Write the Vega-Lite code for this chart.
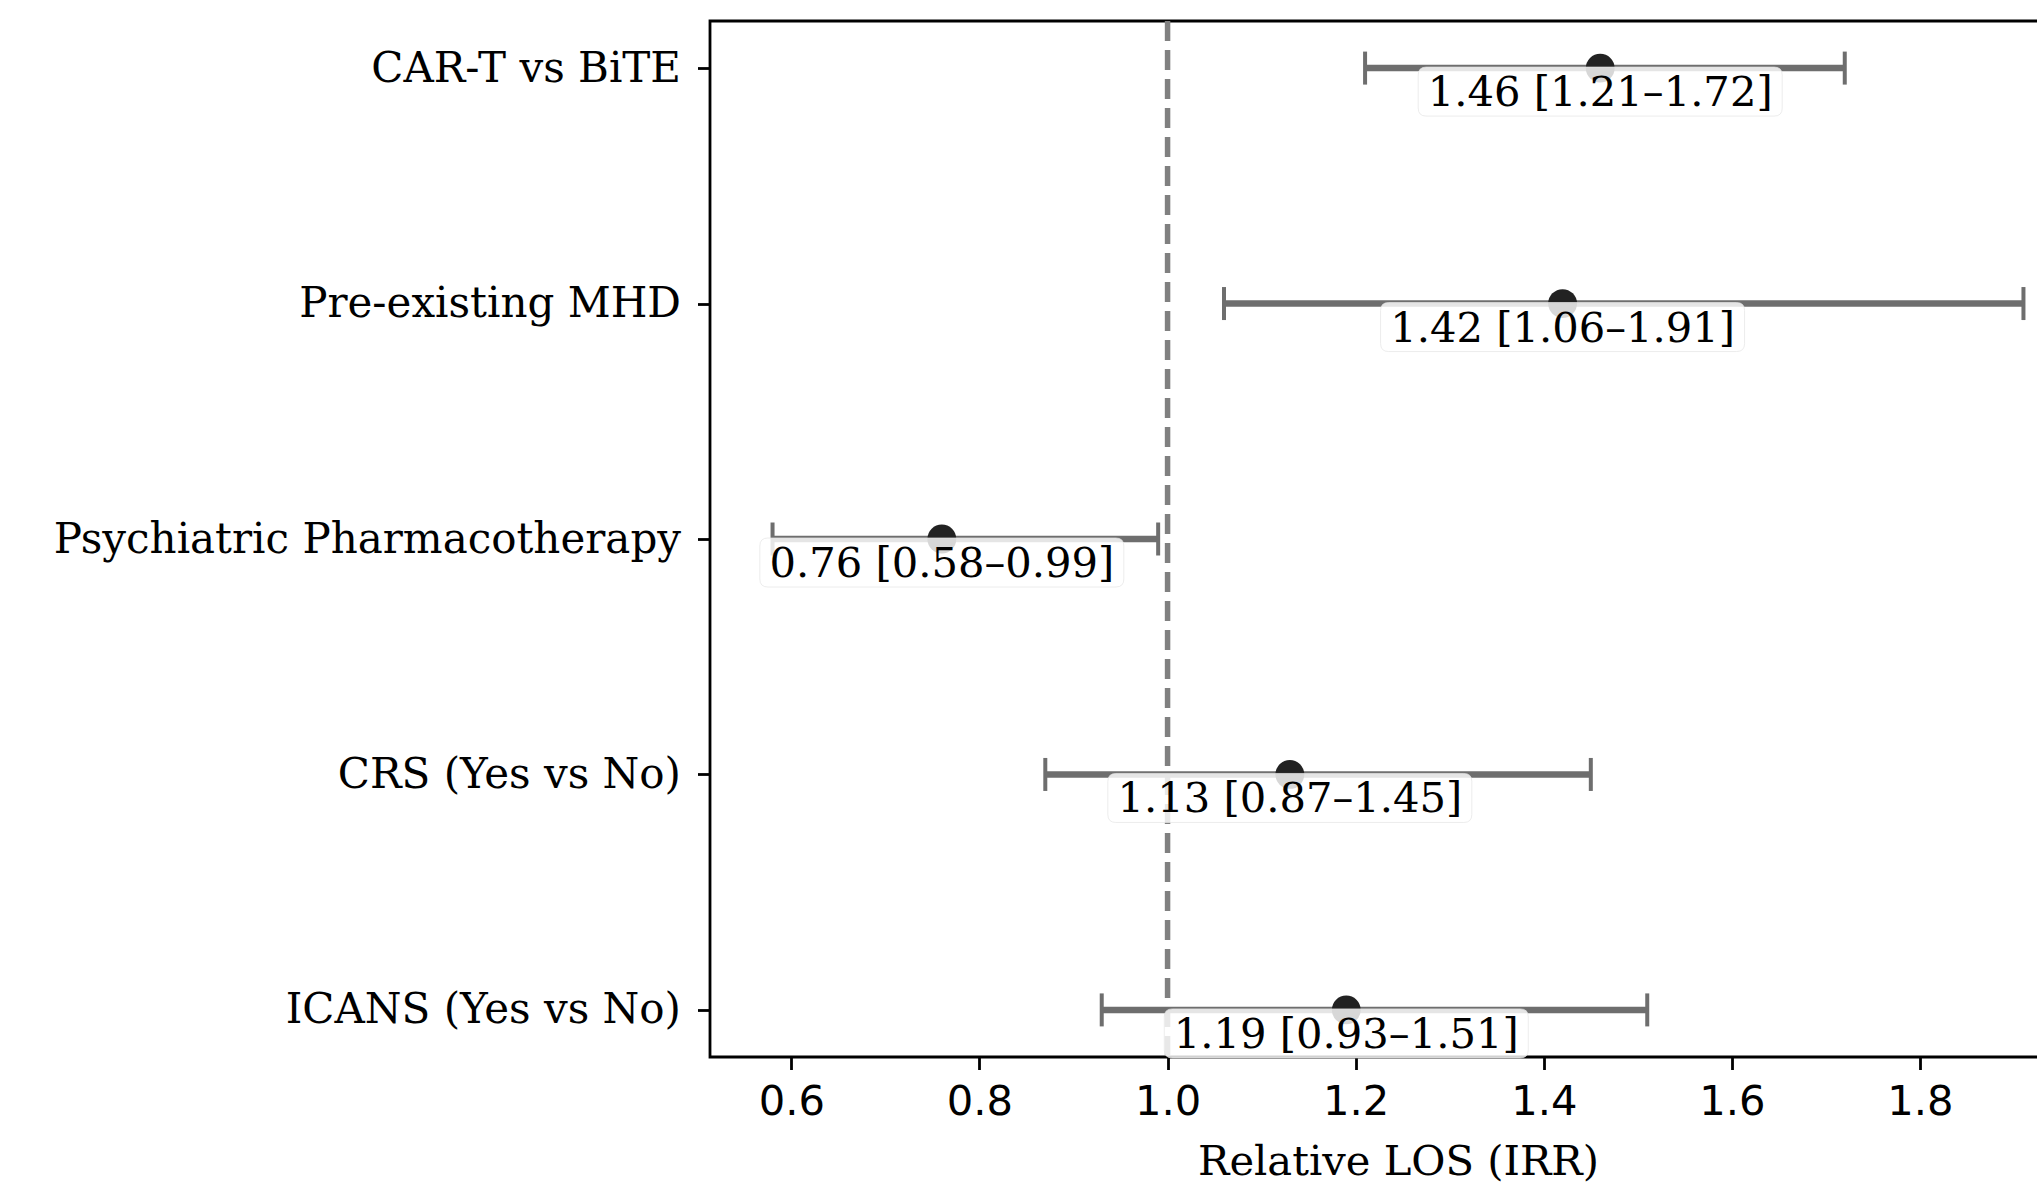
{
  "$schema": "https://vega.github.io/schema/vega-lite/v6.json",
  "autosize": {"type": "none"},
  "padding": {"left": 710, "top": 21, "right": 0, "bottom": 127},
  "width": 1376,
  "height": 1036,
  "background": "white",
  "config": {
    "view": {"stroke": "black", "strokeWidth": 2.8},
    "axis": {
      "domain": false,
      "grid": false,
      "tickColor": "black",
      "tickWidth": 2.8,
      "tickSize": 12.5,
      "labelColor": "black",
      "labelFontSize": 41.67,
      "labelLimit": 1000,
      "titleFontSize": 41.67,
      "titleFont": "DejaVu Serif",
      "titleFontWeight": "normal",
      "titleColor": "black"
    }
  },
  "datasets": {
    "rows": [
      {"term": "CAR-T vs BiTE", "est": 1.46, "lo": 1.21, "hi": 1.72, "label": "1.46 [1.21–1.72]"},
      {"term": "Pre-existing MHD", "est": 1.42, "lo": 1.06, "hi": 1.91, "label": "1.42 [1.06–1.91]"},
      {"term": "Psychiatric Pharmacotherapy", "est": 0.76, "lo": 0.58, "hi": 0.99, "label": "0.76 [0.58–0.99]"},
      {"term": "CRS (Yes vs No)", "est": 1.13, "lo": 0.87, "hi": 1.45, "label": "1.13 [0.87–1.45]"},
      {"term": "ICANS (Yes vs No)", "est": 1.19, "lo": 0.93, "hi": 1.51, "label": "1.19 [0.93–1.51]"}
    ],
    "ref": [{"ref": 1}]
  },
  "data": {"name": "rows"},
  "encoding": {
    "y": {
      "field": "term",
      "type": "nominal",
      "sort": null,
      "scale": {"type": "point", "padding": 0.2},
      "axis": {
        "title": null,
        "labelFont": "DejaVu Serif",
        "labelFontSize": 42,
        "labelPadding": 17
      }
    }
  },
  "layer": [
    {
      "data": {"name": "ref"},
      "mark": {"type": "rule", "color": "#808080", "strokeWidth": 5.5, "strokeDash": [20, 9]},
      "encoding": {
        "x": {"field": "ref", "type": "quantitative"},
        "y": null
      }
    },
    {
      "mark": {"type": "rule", "color": "#6e6e6e", "strokeWidth": 6.5},
      "encoding": {
        "x": {
          "field": "lo",
          "type": "quantitative",
          "scale": {"domain": [0.5135, 1.9765], "nice": false, "zero": false},
          "axis": {
            "title": "Relative LOS (IRR)",
            "values": [0.6, 0.8, 1.0, 1.2, 1.4, 1.6, 1.8],
            "format": ".1f",
            "labelFont": "DejaVu Sans",
            "labelPadding": 12,
            "titlePadding": 18
          }
        },
        "x2": {"field": "hi"}
      }
    },
    {
      "mark": {"type": "tick", "orient": "vertical", "color": "#6e6e6e", "size": 33, "thickness": 4, "opacity": 1},
      "encoding": {"x": {"field": "lo", "type": "quantitative"}}
    },
    {
      "mark": {"type": "tick", "orient": "vertical", "color": "#6e6e6e", "size": 33, "thickness": 4, "opacity": 1},
      "encoding": {"x": {"field": "hi", "type": "quantitative"}}
    },
    {
      "mark": {"type": "point", "shape": "circle", "filled": true, "color": "#222222", "size": 830, "opacity": 1},
      "encoding": {"x": {"field": "est", "type": "quantitative"}}
    },
    {
      "mark": {
        "type": "point",
        "shape": "M-174,-1 H174 Q182,-1 182,7 V40 Q182,48 174,48 H-174 Q-182,48 -182,40 V7 Q-182,-1 -174,-1 Z",
        "size": 4,
        "filled": true,
        "fill": "white",
        "fillOpacity": 0.82,
        "stroke": "#e4e4e4",
        "strokeWidth": 1,
        "strokeOpacity": 0.7,
        "opacity": 1
      },
      "encoding": {"x": {"field": "est", "type": "quantitative"}}
    },
    {
      "mark": {
        "type": "text",
        "font": "DejaVu Serif",
        "fontSize": 41.67,
        "color": "black",
        "align": "center",
        "baseline": "alphabetic",
        "dy": 38
      },
      "encoding": {
        "x": {"field": "est", "type": "quantitative"},
        "text": {"field": "label"}
      }
    }
  ]
}
